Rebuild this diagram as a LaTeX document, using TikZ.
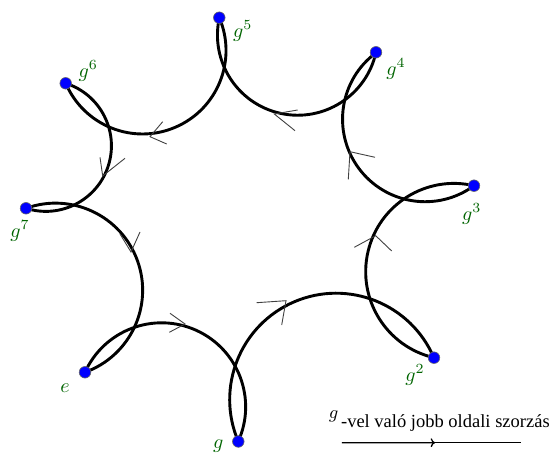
\documentclass[tikz,border=0pt]{standalone}
\usepackage{fontspec}
\newfontfamily\legendfont{Liberation Serif}
\usetikzlibrary{calc,arrows.meta,backgrounds}
\definecolor{labelgreen}{RGB}{0,100,0}
\begin{document}
\begin{tikzpicture}[x=0.5pt,y=-0.5pt,
  dot/.style={circle,fill=blue,draw=black!60,line width=0.3pt,inner sep=0pt,minimum size=5.8pt},
  lbl/.style={text=labelgreen,font=\fontsize{10}{12}\selectfont,inner sep=0pt},
  semi/.style={line width=1.45pt,black},
  chev/.style={line width=0.45pt,black!75},
  legend/.style={font=\legendfont\fontsize{9.25}{11}\selectfont,inner sep=0pt}]
\useasboundingbox (0,0) rectangle (554,454);

% group elements e, g, g^2, ..., g^7
\node[dot] (p0) at (85,372.3) {};
\node[dot] (p1) at (238.3,441.5) {};
\node[dot] (p2) at (434,357.7) {};
\node[dot] (p3) at (474,185.7) {};
\node[dot] (p4) at (376,52.3) {};
\node[dot] (p5) at (219.3,17.7) {};
\node[dot] (p6) at (65.7,83.3) {};
\node[dot] (p7) at (26,208.3) {};

% element labels
\node[lbl] (l0) at (65,388.3) {$e$};
\node[lbl] (l1) at (218.3,446.5) {$g$};
\node[lbl] (l2) at (415,375) {$g^2$};
\node[lbl] (l3) at (471.7,214) {$g^3$};
\node[lbl] (l4) at (396,69) {$g^4$};
\node[lbl] (l5) at (242.7,31) {$g^5$};
\node[lbl] (l6) at (88.3,71) {$g^6$};
\node[lbl] (l7) at (20,231) {$g^7$};

% multiplication by g: half circles on consecutive elements
\begin{pgfonlayer}{background}
\foreach \a/\b in {p0/p1,p1/p2,p2/p3,p3/p4,p4/p5,p5/p6,p6/p7,p7/p0}
  \draw[semi] let \p1=(\a.center), \p2=(\b.center) in
    (\a.center) arc[start angle={atan2(\y1-\y2,\x1-\x2)}, delta angle=-180,
                    radius={veclen(\x2-\x1,\y2-\y1)/2}];
\end{pgfonlayer}

% direction marks on the half circles
\draw[chev] (170,313.3) -- (185,324) -- (169.3,332.3);
\draw[chev] (256.7,302.7) -- (286,300.7) -- (281.7,325);
\draw[chev] (354.3,247.3) -- (375.7,235.7) -- (391.7,251);
\draw[chev] (375,157.3) -- (350,151.7) -- (348.3,179.3);
\draw[chev] (297.7,110) -- (274.3,114) -- (295,130.7);
\draw[chev] (162.7,121.7) -- (150,136.7) -- (166.7,144);
\draw[chev] (100,157.3) -- (102.7,176) -- (125,158.3);
\draw[chev] (120,234) -- (131,252) -- (140,232);

% legend
\node[inner sep=0pt,anchor=base,font=\fontsize{9}{11}\selectfont] (legg) at (333.5,418.5) {$g$};
\node[legend,anchor=base west] (legtext) at (340.7,428) {-vel való jobb oldali szorzás};
\coordinate (la) at (342,442.7);
\coordinate (lb) at (521,442.7);
\coordinate (lm) at ($(la)!0.52!(lb)$);
\draw[line width=0.65pt] (la) -- (lb);
\draw[line width=0.65pt,-{To[length=2.2pt,width=4.4pt]}] (la) -- (lm);
\end{tikzpicture}
\end{document}
